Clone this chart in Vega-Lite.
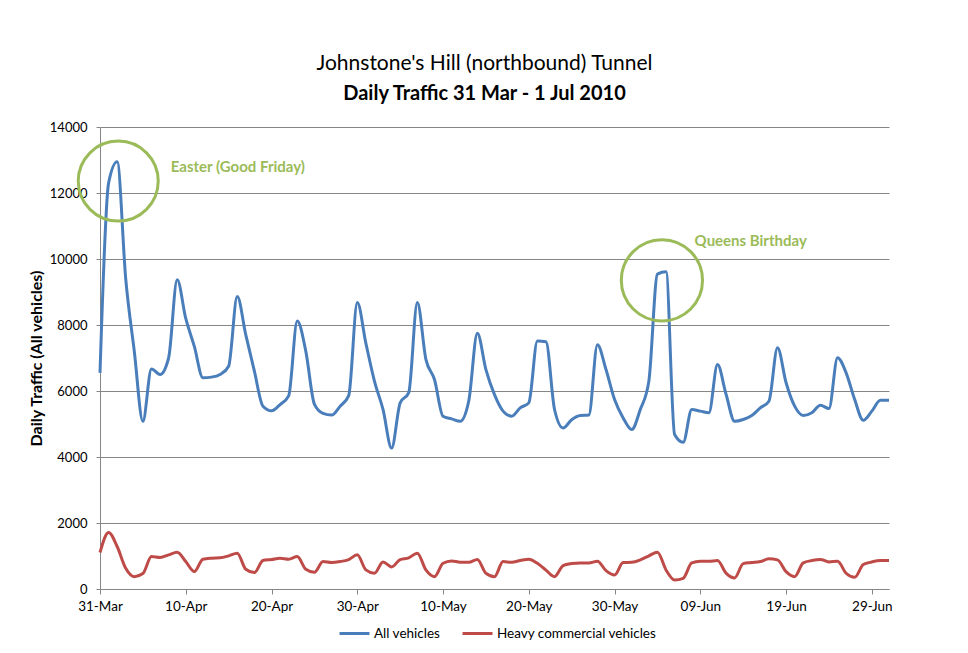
{
  "$schema": "https://vega.github.io/schema/vega-lite/v6.json",
  "autosize": "none",
  "width": 789,
  "height": 462,
  "padding": {"left": 100, "top": 127, "right": 79, "bottom": 64},
  "background": "white",
  "title": {
    "text": "Johnstone's Hill (northbound) Tunnel",
    "subtitle": "Daily Traffic 31 Mar - 1 Jul 2010",
    "anchor": "middle",
    "dx": -10,
    "font": "Lato",
    "fontSize": 21,
    "fontWeight": "normal",
    "color": "#000000",
    "subtitleFont": "Lato",
    "subtitleFontSize": 20,
    "subtitleFontWeight": "bold",
    "subtitleColor": "#000000",
    "subtitlePadding": 10,
    "offset": 17
  },
  "config": {
    "view": {"stroke": null},
    "font": "Lato",
    "axis": {
      "labelFont": "Lato",
      "labelFontSize": 13,
      "labelColor": "#000000",
      "domainColor": "#868686",
      "tickColor": "#868686",
      "gridColor": "#868686",
      "titleFont": "Lato",
      "titleColor": "#000000"
    },
    "legend": {"labelFont": "Lato"}
  },
  "datasets": {
    "traffic": [
      {"date": "2010-03-31", "All vehicles": 6550, "Heavy commercial vehicles": 1105},
      {"date": "2010-04-01", "All vehicles": 12300, "Heavy commercial vehicles": 1714},
      {"date": "2010-04-02", "All vehicles": 12950, "Heavy commercial vehicles": 1288},
      {"date": "2010-04-03", "All vehicles": 9400, "Heavy commercial vehicles": 629},
      {"date": "2010-04-04", "All vehicles": 7200, "Heavy commercial vehicles": 375},
      {"date": "2010-04-05", "All vehicles": 5080, "Heavy commercial vehicles": 470},
      {"date": "2010-04-06", "All vehicles": 6670, "Heavy commercial vehicles": 983},
      {"date": "2010-04-07", "All vehicles": 6500, "Heavy commercial vehicles": 953},
      {"date": "2010-04-08", "All vehicles": 7000, "Heavy commercial vehicles": 1035},
      {"date": "2010-04-09", "All vehicles": 9370, "Heavy commercial vehicles": 1116},
      {"date": "2010-04-10", "All vehicles": 8200, "Heavy commercial vehicles": 831},
      {"date": "2010-04-11", "All vehicles": 7350, "Heavy commercial vehicles": 527},
      {"date": "2010-04-12", "All vehicles": 6400, "Heavy commercial vehicles": 904},
      {"date": "2010-04-13", "All vehicles": 6420, "Heavy commercial vehicles": 934},
      {"date": "2010-04-14", "All vehicles": 6500, "Heavy commercial vehicles": 944},
      {"date": "2010-04-15", "All vehicles": 6750, "Heavy commercial vehicles": 1004},
      {"date": "2010-04-16", "All vehicles": 8860, "Heavy commercial vehicles": 1085},
      {"date": "2010-04-17", "All vehicles": 7700, "Heavy commercial vehicles": 598},
      {"date": "2010-04-18", "All vehicles": 6600, "Heavy commercial vehicles": 497},
      {"date": "2010-04-19", "All vehicles": 5540, "Heavy commercial vehicles": 862},
      {"date": "2010-04-20", "All vehicles": 5400, "Heavy commercial vehicles": 893},
      {"date": "2010-04-21", "All vehicles": 5590, "Heavy commercial vehicles": 934},
      {"date": "2010-04-22", "All vehicles": 5850, "Heavy commercial vehicles": 904},
      {"date": "2010-04-23", "All vehicles": 8120, "Heavy commercial vehicles": 983},
      {"date": "2010-04-24", "All vehicles": 7200, "Heavy commercial vehicles": 598},
      {"date": "2010-04-25", "All vehicles": 5600, "Heavy commercial vehicles": 507},
      {"date": "2010-04-26", "All vehicles": 5320, "Heavy commercial vehicles": 831},
      {"date": "2010-04-27", "All vehicles": 5270, "Heavy commercial vehicles": 800},
      {"date": "2010-04-28", "All vehicles": 5540, "Heavy commercial vehicles": 831},
      {"date": "2010-04-29", "All vehicles": 5860, "Heavy commercial vehicles": 893},
      {"date": "2010-04-30", "All vehicles": 8680, "Heavy commercial vehicles": 1035},
      {"date": "2010-05-01", "All vehicles": 7450, "Heavy commercial vehicles": 578},
      {"date": "2010-05-02", "All vehicles": 6300, "Heavy commercial vehicles": 477},
      {"date": "2010-05-03", "All vehicles": 5440, "Heavy commercial vehicles": 820},
      {"date": "2010-05-04", "All vehicles": 4270, "Heavy commercial vehicles": 669},
      {"date": "2010-05-05", "All vehicles": 5640, "Heavy commercial vehicles": 893},
      {"date": "2010-05-06", "All vehicles": 5950, "Heavy commercial vehicles": 944},
      {"date": "2010-05-07", "All vehicles": 8680, "Heavy commercial vehicles": 1085},
      {"date": "2010-05-08", "All vehicles": 6960, "Heavy commercial vehicles": 578},
      {"date": "2010-05-09", "All vehicles": 6350, "Heavy commercial vehicles": 375},
      {"date": "2010-05-10", "All vehicles": 5235, "Heavy commercial vehicles": 780},
      {"date": "2010-05-11", "All vehicles": 5155, "Heavy commercial vehicles": 852},
      {"date": "2010-05-12", "All vehicles": 5080, "Heavy commercial vehicles": 810},
      {"date": "2010-05-13", "All vehicles": 5700, "Heavy commercial vehicles": 810},
      {"date": "2010-05-14", "All vehicles": 7750, "Heavy commercial vehicles": 893},
      {"date": "2010-05-15", "All vehicles": 6650, "Heavy commercial vehicles": 477},
      {"date": "2010-05-16", "All vehicles": 5890, "Heavy commercial vehicles": 375},
      {"date": "2010-05-17", "All vehicles": 5390, "Heavy commercial vehicles": 831},
      {"date": "2010-05-18", "All vehicles": 5235, "Heavy commercial vehicles": 810},
      {"date": "2010-05-19", "All vehicles": 5490, "Heavy commercial vehicles": 862},
      {"date": "2010-05-20", "All vehicles": 5640, "Heavy commercial vehicles": 904},
      {"date": "2010-05-21", "All vehicles": 7515, "Heavy commercial vehicles": 780},
      {"date": "2010-05-22", "All vehicles": 7490, "Heavy commercial vehicles": 570},
      {"date": "2010-05-23", "All vehicles": 5440, "Heavy commercial vehicles": 375},
      {"date": "2010-05-24", "All vehicles": 4880, "Heavy commercial vehicles": 710},
      {"date": "2010-05-25", "All vehicles": 5130, "Heavy commercial vehicles": 770},
      {"date": "2010-05-26", "All vehicles": 5255, "Heavy commercial vehicles": 790},
      {"date": "2010-05-27", "All vehicles": 5270, "Heavy commercial vehicles": 790},
      {"date": "2010-05-28", "All vehicles": 7400, "Heavy commercial vehicles": 841},
      {"date": "2010-05-29", "All vehicles": 6650, "Heavy commercial vehicles": 558},
      {"date": "2010-05-30", "All vehicles": 5740, "Heavy commercial vehicles": 426},
      {"date": "2010-05-31", "All vehicles": 5185, "Heavy commercial vehicles": 800},
      {"date": "2010-06-01", "All vehicles": 4830, "Heavy commercial vehicles": 810},
      {"date": "2010-06-02", "All vehicles": 5440, "Heavy commercial vehicles": 883},
      {"date": "2010-06-03", "All vehicles": 6300, "Heavy commercial vehicles": 1004},
      {"date": "2010-06-04", "All vehicles": 9540, "Heavy commercial vehicles": 1116},
      {"date": "2010-06-05", "All vehicles": 9610, "Heavy commercial vehicles": 578},
      {"date": "2010-06-06", "All vehicles": 4680, "Heavy commercial vehicles": 274},
      {"date": "2010-06-07", "All vehicles": 4445, "Heavy commercial vehicles": 325},
      {"date": "2010-06-08", "All vehicles": 5440, "Heavy commercial vehicles": 790},
      {"date": "2010-06-09", "All vehicles": 5390, "Heavy commercial vehicles": 841},
      {"date": "2010-06-10", "All vehicles": 5340, "Heavy commercial vehicles": 841},
      {"date": "2010-06-11", "All vehicles": 6800, "Heavy commercial vehicles": 862},
      {"date": "2010-06-12", "All vehicles": 5900, "Heavy commercial vehicles": 480},
      {"date": "2010-06-13", "All vehicles": 5080, "Heavy commercial vehicles": 335},
      {"date": "2010-06-14", "All vehicles": 5135, "Heavy commercial vehicles": 770},
      {"date": "2010-06-15", "All vehicles": 5255, "Heavy commercial vehicles": 800},
      {"date": "2010-06-16", "All vehicles": 5490, "Heavy commercial vehicles": 831},
      {"date": "2010-06-17", "All vehicles": 5690, "Heavy commercial vehicles": 914},
      {"date": "2010-06-18", "All vehicles": 7310, "Heavy commercial vehicles": 883},
      {"date": "2010-06-19", "All vehicles": 6250, "Heavy commercial vehicles": 527},
      {"date": "2010-06-20", "All vehicles": 5540, "Heavy commercial vehicles": 375},
      {"date": "2010-06-21", "All vehicles": 5255, "Heavy commercial vehicles": 790},
      {"date": "2010-06-22", "All vehicles": 5340, "Heavy commercial vehicles": 862},
      {"date": "2010-06-23", "All vehicles": 5570, "Heavy commercial vehicles": 893},
      {"date": "2010-06-24", "All vehicles": 5470, "Heavy commercial vehicles": 820},
      {"date": "2010-06-25", "All vehicles": 7010, "Heavy commercial vehicles": 841},
      {"date": "2010-06-26", "All vehicles": 6550, "Heavy commercial vehicles": 477},
      {"date": "2010-06-27", "All vehicles": 5740, "Heavy commercial vehicles": 355},
      {"date": "2010-06-28", "All vehicles": 5110, "Heavy commercial vehicles": 740},
      {"date": "2010-06-29", "All vehicles": 5390, "Heavy commercial vehicles": 820},
      {"date": "2010-06-30", "All vehicles": 5720, "Heavy commercial vehicles": 862},
      {"date": "2010-07-01", "All vehicles": 5720, "Heavy commercial vehicles": 862}
    ],
    "circles": [
      {"date": "2010-04-02T03:00:00Z", "value": 12360, "size": "a"},
      {"date": "2010-06-04T12:30:00Z", "value": 9354, "size": "b"}
    ],
    "labels": [
      {"date": "2010-04-08T06:00:00Z", "value": 12800, "label": "Easter (Good Friday)"},
      {"date": "2010-06-08T08:00:00Z", "value": 10550, "label": "Queens Birthday"}
    ]
  },
  "layer": [
    {
      "data": {"name": "traffic"},
      "transform": [
        {"fold": ["All vehicles", "Heavy commercial vehicles"], "as": ["series", "value"]}
      ],
      "mark": {"type": "line", "interpolate": "monotone", "strokeWidth": 3, "clip": false},
      "encoding": {
        "x": {
          "field": "date",
          "type": "temporal",
          "scale": {
            "type": "utc",
            "domain": [
              {"year": 2010, "month": 3, "date": 31, "utc": true},
              {"year": 2010, "month": 7, "date": 1, "utc": true}
            ]
          },
          "axis": {
            "title": null,
            "format": "%d-%b",
            "values": [
              {"year": 2010, "month": 3, "date": 31, "utc": true},
              {"year": 2010, "month": 4, "date": 10, "utc": true},
              {"year": 2010, "month": 4, "date": 20, "utc": true},
              {"year": 2010, "month": 4, "date": 30, "utc": true},
              {"year": 2010, "month": 5, "date": 10, "utc": true},
              {"year": 2010, "month": 5, "date": 20, "utc": true},
              {"year": 2010, "month": 5, "date": 30, "utc": true},
              {"year": 2010, "month": 6, "date": 9, "utc": true},
              {"year": 2010, "month": 6, "date": 19, "utc": true},
              {"year": 2010, "month": 6, "date": 29, "utc": true}
            ],
            "grid": false,
            "tickSize": 5,
            "labelPadding": 5,
            "labelFontSize": 13.5,
            "labelFlush": false,
            "labelOverlap": false
          }
        },
        "y": {
          "field": "value",
          "type": "quantitative",
          "scale": {"domain": [0, 14000], "nice": false},
          "axis": {
            "title": "Daily Traffic (All vehicles)",
            "titleFontSize": 16,
            "titleFontWeight": "bold",
            "titlePadding": 5,
            "values": [0, 2000, 4000, 6000, 8000, 10000, 12000, 14000],
            "format": "d",
            "grid": true,
            "tickSize": 4,
            "labelPadding": 9
          }
        },
        "color": {
          "field": "series",
          "type": "nominal",
          "scale": {
            "domain": ["All vehicles", "Heavy commercial vehicles"],
            "range": ["#4A7EBB", "#BE4B48"]
          },
          "legend": {
            "title": null,
            "orient": "none",
            "direction": "horizontal",
            "legendX": 238,
            "legendY": 490,
            "symbolType": "stroke",
            "symbolSize": 900,
            "symbolStrokeWidth": 3,
            "labelFontSize": 13.5,
            "labelColor": "#000000",
            "labelOffset": 3,
            "columnPadding": 15
          }
        }
      }
    },
    {
      "data": {"name": "circles"},
      "mark": {"type": "point", "shape": "circle", "filled": false, "strokeWidth": 3, "color": "#9BBB59", "opacity": 1, "clip": false},
      "encoding": {
        "x": {"field": "date", "type": "temporal"},
        "y": {"field": "value", "type": "quantitative"},
        "size": {
          "field": "size",
          "type": "nominal",
          "scale": {"domain": ["a", "b"], "range": [6400, 6600]},
          "legend": null
        }
      }
    },
    {
      "data": {"name": "labels"},
      "mark": {"type": "text", "align": "left", "baseline": "middle", "font": "Lato", "fontSize": 15, "fontWeight": "bold", "color": "#9BBB59"},
      "encoding": {
        "x": {"field": "date", "type": "temporal"},
        "y": {"field": "value", "type": "quantitative"},
        "text": {"field": "label", "type": "nominal"}
      }
    }
  ]
}
